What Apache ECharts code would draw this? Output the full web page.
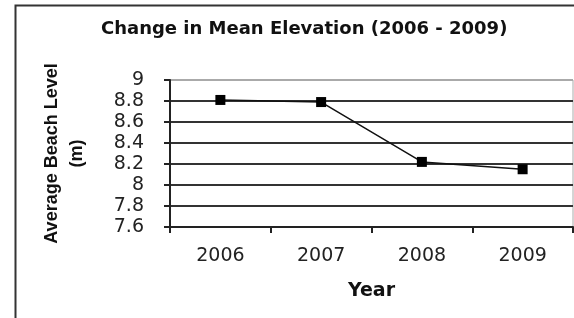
<!DOCTYPE html>
<html>
<head>
<meta charset="utf-8">
<script src="https://cdn.jsdelivr.net/npm/echarts@6/dist/echarts.min.js"></script>
<style>
  html, body { margin: 0; padding: 0; background: #fff; }
  #view { width: 574px; height: 318px; }
</style>
</head>
<body>
<div id="view"></div>
<script>
var years = ['2006', '2007', '2008', '2009'];
var levels = [8.81, 8.79, 8.22, 8.15];
var yMin = 7.6, yMax = 9, yStep = 0.2;

var chart = echarts.init(document.getElementById('view'), null, {renderer: 'canvas'});
// gridlines from bottom to top, the top one is lighter
var gridColors = ['#333', '#333', '#333', '#333', '#333', '#333', '#333', '#aaa'];

chart.setOption({
    animation: false,
    backgroundColor: '#fff',
    title: {
        text: 'Change in Mean Elevation (2006 - 2009)',
        left: 96, top: 15,
        textStyle: {fontFamily: 'DejaVu Sans', fontWeight: 'bold', fontSize: 18, color: '#111'}
    },
    graphic: [{
        type: 'rect', left: 13, top: 3,
        shape: {width: 600, height: 400},
        style: {fill: null, stroke: '#333', lineWidth: 2}
    }],
    grid: {left: 170, right: 1, top: 80, bottom: 91, show: true, borderColor: '#aaa', borderWidth: 1},
    xAxis: {
        type: 'category', data: years, boundaryGap: true,
        name: 'Year', nameLocation: 'middle', nameGap: 55,
        nameTextStyle: {fontFamily: 'DejaVu Sans', fontWeight: 'bold', fontSize: 19, color: '#111'},
        axisLine: {lineStyle: {color: '#222', width: 2}},
        axisTick: {show: true, length: 6, alignWithLabel: false, lineStyle: {color: '#222', width: 2}},
        axisLabel: {margin: 20, fontFamily: 'DejaVu Sans', fontSize: 19, color: '#222'}
    },
    yAxis: {
        type: 'value', min: yMin, max: yMax, interval: yStep,
        name: 'Average Beach Level\n(m)', nameLocation: 'middle', nameGap: 80,
        nameTextStyle: {fontFamily: 'Liberation Sans', fontWeight: 'bold', fontSize: 18, lineHeight: 25, color: '#111'},
        axisLine: {show: true, lineStyle: {color: '#222', width: 2}},
        axisTick: {show: true, length: 6, lineStyle: {color: '#222', width: 2}},
        axisLabel: {
            margin: 26, fontFamily: 'DejaVu Sans', fontSize: 19, color: '#222',
            formatter: function(v) { return String(+v.toFixed(1)); }
        },
        splitLine: {show: true, lineStyle: {color: gridColors, width: 2}}
    },
    series: [{
        type: 'line', data: levels,
        symbol: 'rect', symbolSize: 10,
        itemStyle: {color: '#000'},
        lineStyle: {color: '#111', width: 1.5}
    }]
});
</script>
</body>
</html>
